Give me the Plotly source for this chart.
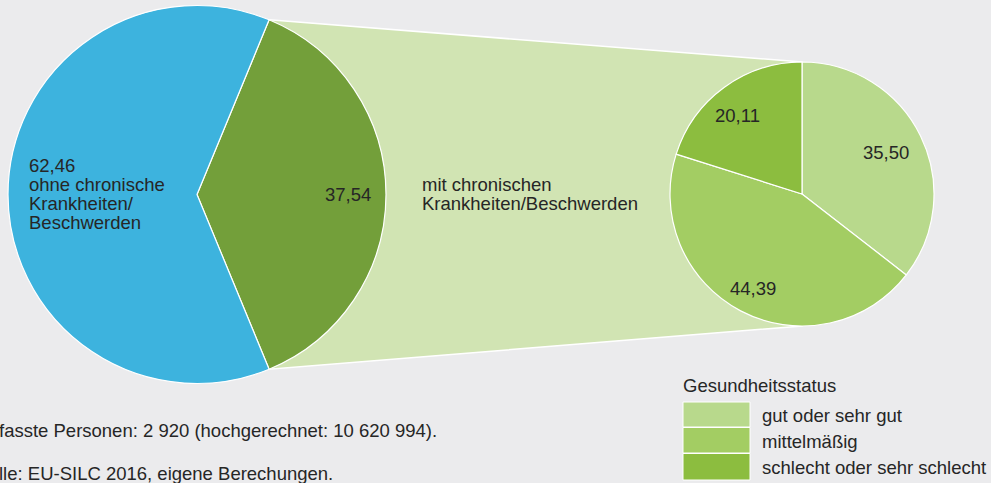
import math
import plotly.graph_objects as go

# ---- data ----
main_labels = ["mit chronischen Krankheiten/Beschwerden", "ohne chronische Krankheiten/Beschwerden"]
main_values = [37.54, 62.46]
main_colors = ["#739f3a", "#3db3de"]

status_labels = ["gut oder sehr gut", "mittelmäßig", "schlecht oder sehr schlecht"]
status_values = [35.50, 44.39, 20.11]
status_colors = ["#b8d98c", "#a3cd63", "#8cbd3f"]

legend_title = "Gesundheitsstatus"
note_lines = ["fasste Personen: 2 920 (hochgerechnet: 10 620 994).",
              "lle: EU-SILC 2016, eigene Berechungen."]

def fmt(v):
    return f"{v:.2f}".replace(".", ",")

# ---- layout geometry (pixels) ----
W, H = 991, 483
C1 = (197.0, 194.5); R1 = 189.0
C2 = (802.0, 194.0); R2 = 132.0
FONT = "Liberation Sans, Arial, Helvetica, sans-serif"
FS = 18.5
TXT = "#262626"

def dom(c, r):
    return dict(x=[(c[0] - r) / W, (c[0] + r) / W],
                y=[1 - (c[1] + r) / H, 1 - (c[1] - r) / H])

fig = go.Figure()

# connector (derived from the slice angle of the main pie)
half = main_values[0] / sum(main_values) * math.pi
p_top = (C1[0] + R1 * math.cos(half), C1[1] - R1 * math.sin(half))
p_bot = (C1[0] + R1 * math.cos(half), C1[1] + R1 * math.sin(half))
cx = [p_top[0], C2[0], C2[0], p_bot[0], p_top[0]]
cy = [p_top[1], C2[1] - R2, C2[1] + R2, p_bot[1], p_top[1]]
fig.add_trace(go.Scatter(x=cx, y=cy, mode="lines", fill="toself",
                         fillcolor="#d1e4b3", line=dict(color="white", width=1.5),
                         hoverinfo="skip", showlegend=False))

rot = 90 - main_values[0] / sum(main_values) * 180
fig.add_trace(go.Pie(values=main_values, labels=main_labels, sort=False,
                     direction="clockwise", rotation=rot,
                     marker=dict(colors=main_colors, line=dict(color="white", width=1.2)),
                     textinfo="none", domain=dom(C1, R1), showlegend=False))
fig.add_trace(go.Pie(values=status_values, labels=status_labels, sort=False,
                     direction="clockwise", rotation=0,
                     marker=dict(colors=status_colors, line=dict(color="white", width=1.2)),
                     textinfo="none", domain=dom(C2, R2), showlegend=False))

ann = []
def text(x, y, s, anchor="left", size=FS, xref="x"):
    ann.append(dict(x=x, y=y, xref=xref, yref="y", text=s, showarrow=False,
                    xanchor=anchor, yanchor="middle",
                    font=dict(family=FONT, size=size, color=TXT)))

# big pie labels
for i, s in enumerate([fmt(main_values[1]), "ohne chronische", "Krankheiten/", "Beschwerden"]):
    text(27, 165 + 19.2 * i, s)
text(348, 194, fmt(main_values[0]), "center")
text(420, 184, "mit chronischen")
text(420, 203, "Krankheiten/Beschwerden")

# small pie labels
text(886, 152, fmt(status_values[0]), "center")
text(753, 288, fmt(status_values[1]), "center")
text(737, 115, fmt(status_values[2]), "center")

# notes
text(-3 / W, 430, note_lines[0], xref="paper")
text(-3 / W, 473, note_lines[1], xref="paper")

# legend
text(681, 385, legend_title)
shapes = []
ys = [(402, 427), (427.5, 453), (453.5, 480)]
ly = [415, 441, 467]
for (y0, y1), c, lab, yy in zip(ys, status_colors, status_labels, ly):
    shapes.append(dict(type="rect", xref="x", yref="y", x0=683, x1=750, y0=y0, y1=y1,
                       fillcolor=c, line=dict(color="white", width=1)))
    text(760, yy, lab)

fig.update_layout(
    width=W, height=H, margin=dict(l=0, r=0, t=0, b=0),
    paper_bgcolor="#ebebed", plot_bgcolor="#ebebed",
    xaxis=dict(range=[0, W], visible=False, fixedrange=True),
    yaxis=dict(range=[H, 0], visible=False, fixedrange=True),
    annotations=ann, shapes=shapes, showlegend=False,
)
fig.write_html("out.html", config={"displayModeBar": False},
               post_script="document.body.style.margin='0';document.body.style.background='#ebebed';")
